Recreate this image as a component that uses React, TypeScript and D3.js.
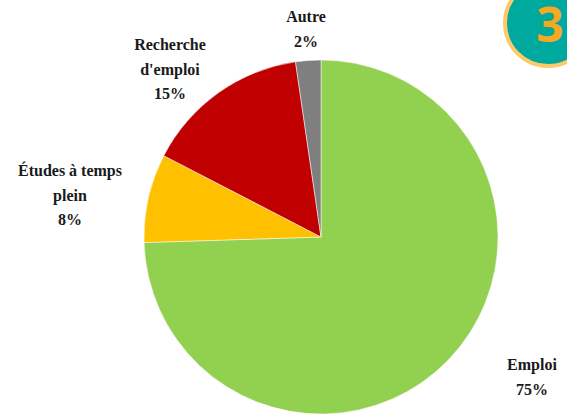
import React from "react";
import * as d3 from "d3";

// slices, clockwise from 12 o'clock
const categories = ["Emploi", "Études à temps plein", "Recherche d'emploi", "Autre"];
const values = [74.5, 8.1, 15.1, 2.3];
const labels = ["75%", "8%", "15%", "2%"];
const colors = ["#92D050", "#FFC000", "#C00000", "#7F7F7F"];

// label lines per slice and where each label block sits (centre x, first line y)
const labelLines = [["Emploi"], ["Études à temps", "plein"], ["Recherche", "d'emploi"], ["Autre"]];
const labelPos = [[532, 370], [70, 176], [170, 50], [306, 22]];

const W = 567;
const H = 414;
const cx = 321;
const cy = 237;
const radius = 177;

const Slices = () => {
  const arcs = d3.pie<number>().sort(null).value(d => d)(values);
  const arc = d3.arc<d3.PieArcDatum<number>>().innerRadius(0).outerRadius(radius);
  return (
    <g transform={`translate(${cx}, ${cy})`}>
      {arcs.map((a, i) =>
        <path key={i} d={arc(a) || ""} fill={colors[i]} stroke="white" strokeWidth={0.5}></path>)}
    </g>
  );
};

const Labels = () =>
  <g style={{ fontFamily: "Liberation Serif, DejaVu Serif, serif", fontWeight: 700, fontSize: 16 }} fill="#1a1a1a" textAnchor="middle">
    {categories.map((c, i) => {
      const [x, y] = labelPos[i];
      const lines = [...labelLines[i], labels[i]];
      return (
        <text key={c} x={x} y={y}>
          {lines.map((t, j) => <tspan key={j} x={x} dy={j === 0 ? 0 : 24.5}>{t}</tspan>)}
        </text>
      );
    })}
  </g>;

const Badge = () =>
  <g>
    <circle cx={548} cy={23} r={43} fill="#00A99D" stroke="#FFC86B" strokeWidth={4}></circle>
    <text x={550} y={42} textAnchor="middle" style={{ fontFamily: "Open Sans, sans-serif", fontWeight: 700, fontSize: 48 }} fill="#F7A823">3</text>
  </g>;

export default function App() {
  return (
    <svg width={W} height={H} style={{ position: "absolute", left: 0, top: 0, background: "white" }}>
      <Slices />
      <Labels />
      <Badge />
    </svg>
  );
}
